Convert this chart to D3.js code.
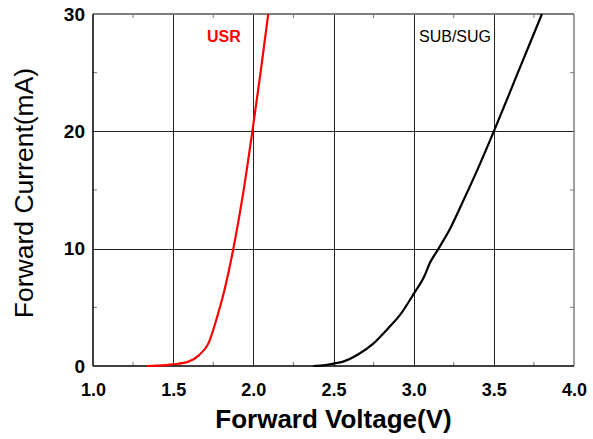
<!DOCTYPE html>
<html>
<head>
<meta charset="utf-8">
<script src="https://cdn.jsdelivr.net/npm/d3@7"></script>
<style>
  body { margin: 0; background: #fff; }
  svg { display: block; font-family: "Liberation Sans", Arial, sans-serif; }
</style>
</head>
<body>
<svg id="chart" width="593" height="439"></svg>
<script>
// Forward voltage vs forward current, two LED types

const xTicks = [1.0, 1.5, 2.0, 2.5, 3.0, 3.5, 4.0];
const yTicks = [0, 10, 20, 30];

// USR (red)
const usrV = [1.335, 1.40, 1.50, 1.595, 1.66, 1.72, 1.77, 1.82, 1.875, 1.935, 1.994, 2.045, 2.093];
const usrI = [0, 0.03, 0.14, 0.37, 0.91, 1.93, 3.98, 6.48, 9.97, 14.6, 20, 25, 30];

// SUB/SUG (black)
const subV = [2.374, 2.45, 2.50, 2.56, 2.655, 2.75, 2.84, 2.915, 2.998, 3.07, 3.10, 3.155, 3.227, 3.31, 3.40, 3.50, 3.65, 3.80];
const subI = [0, 0.08, 0.2, 0.37, 1.0, 1.93, 3.2, 4.35, 6.1, 7.76, 8.75, 10, 11.7, 14.1, 16.8, 20, 25, 30];

const margin = { top: 14, right: 19, bottom: 73, left: 93 };
const width = 593 - margin.left - margin.right;
const height = 439 - margin.top - margin.bottom;

const svg = d3.select("#chart");
const g = svg.append("g").attr("transform", `translate(${margin.left},${margin.top})`);

const x = d3.scaleLinear().domain([1.0, 4.0]).range([0, width]);
const y = d3.scaleLinear().domain([0, 30]).range([height, 0]);

// grid lines
g.selectAll(".vgrid")
  .data(xTicks.slice(1, -1))
  .enter().append("line")
  .attr("x1", d => Math.round(x(d)) + 0.5).attr("x2", d => Math.round(x(d)) + 0.5)
  .attr("y1", 0).attr("y2", height)
  .attr("stroke", "#222").attr("stroke-width", 1);

g.selectAll(".hgrid")
  .data(yTicks.slice(1, -1))
  .enter().append("line")
  .attr("y1", d => Math.round(y(d)) + 0.5).attr("y2", d => Math.round(y(d)) + 0.5)
  .attr("x1", 0).attr("x2", width)
  .attr("stroke", "#222").attr("stroke-width", 1);

// minor ticks (inward)
const minorX = d3.range(1.25, 4.0, 0.5);
const minorY = [5, 15, 25];
minorX.forEach(v => {
  g.append("line").attr("x1", x(v)).attr("x2", x(v)).attr("y1", 0).attr("y2", 4).attr("stroke", "#777");
  g.append("line").attr("x1", x(v)).attr("x2", x(v)).attr("y1", height).attr("y2", height - 4).attr("stroke", "#777");
});
minorY.forEach(v => {
  g.append("line").attr("y1", y(v)).attr("y2", y(v)).attr("x1", 0).attr("x2", 4).attr("stroke", "#777");
  g.append("line").attr("y1", y(v)).attr("y2", y(v)).attr("x1", width).attr("x2", width - 4).attr("stroke", "#777");
});

// frame
g.append("line").attr("x1", 0).attr("x2", width).attr("y1", 0).attr("y2", 0).attr("stroke", "#7f7f7f").attr("stroke-width", 2);
g.append("line").attr("x1", width).attr("x2", width).attr("y1", 0).attr("y2", height).attr("stroke", "#7f7f7f").attr("stroke-width", 1.5);
g.append("line").attr("x1", 0).attr("x2", 0).attr("y1", 0).attr("y2", height).attr("stroke", "#000").attr("stroke-width", 1.5);
g.append("line").attr("x1", 0).attr("x2", width).attr("y1", height).attr("y2", height).attr("stroke", "#000").attr("stroke-width", 1.5);

// axes labels (ticks via d3 axis, lines hidden)
const xAxis = g.append("g")
  .attr("transform", `translate(0,${height})`)
  .call(d3.axisBottom(x).tickValues(xTicks).tickFormat(d3.format(".1f")).tickSize(0).tickPadding(17));
xAxis.select(".domain").remove();
xAxis.selectAll("text")
  .attr("font-family", "Liberation Sans, Arial, sans-serif")
  .attr("font-size", 18).attr("font-weight", "bold").attr("fill", "#000");

const yAxis = g.append("g")
  .call(d3.axisLeft(y).tickValues(yTicks).tickFormat(d3.format("d")).tickSize(0).tickPadding(8));
yAxis.select(".domain").remove();
yAxis.selectAll("text")
  .attr("font-family", "Liberation Sans, Arial, sans-serif")
  .attr("font-size", 19).attr("font-weight", "bold").attr("fill", "#000");

// curves
const line = d3.line()
  .x(d => x(d[0]))
  .y(d => y(d[1]))
  .curve(d3.curveMonotoneX);

g.append("path")
  .datum(usrV.map((v, i) => [v, usrI[i]]))
  .attr("fill", "none").attr("stroke", "#ff0000").attr("stroke-width", 2.2)
  .attr("d", line);

g.append("path")
  .datum(subV.map((v, i) => [v, subI[i]]))
  .attr("fill", "none").attr("stroke", "#000").attr("stroke-width", 2.2)
  .attr("d", line);

// series labels
svg.append("text")
  .attr("x", 207).attr("y", 42)
  .attr("font-size", 16).attr("font-weight", "bold").attr("fill", "#ff0000")
  .text("USR");

svg.append("text")
  .attr("x", 419).attr("y", 42)
  .attr("font-size", 16).attr("fill", "#000")
  .text("SUB/SUG");

// axis titles
svg.append("text")
  .attr("x", margin.left + width / 2).attr("y", 428)
  .attr("text-anchor", "middle")
  .attr("font-size", 26).attr("font-weight", "bold").attr("fill", "#000")
  .text("Forward Voltage(V)");

svg.append("text")
  .attr("text-anchor", "middle")
  .attr("transform", `translate(33, 193) rotate(-90)`)
  .attr("font-size", 26.5).attr("fill", "#000")
  .text("Forward Current(mA)");
</script>
</body>
</html>
